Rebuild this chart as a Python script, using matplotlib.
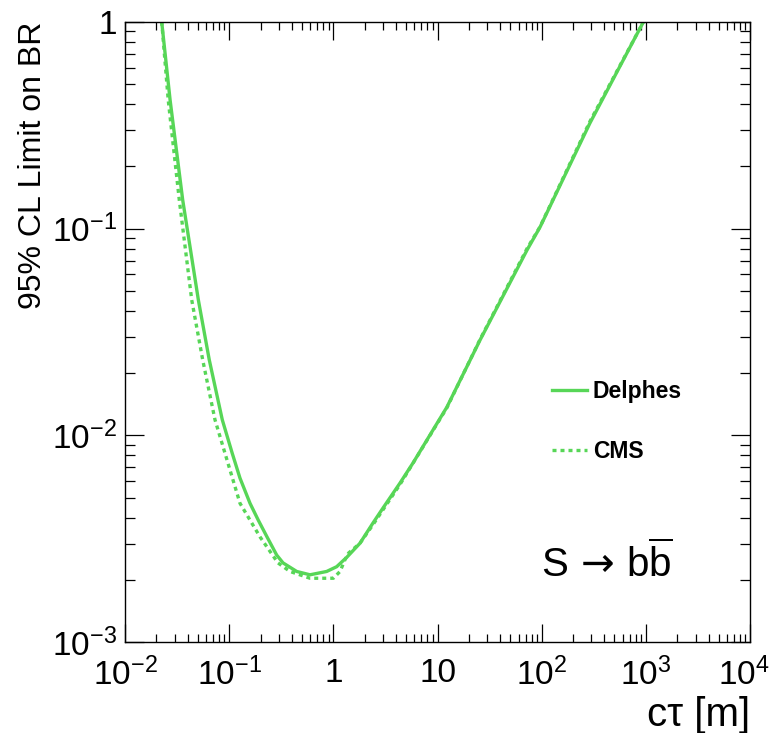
import matplotlib
matplotlib.use("Agg")
import matplotlib.pyplot as plt
import matplotlib.transforms as mtransforms
from matplotlib.ticker import FixedLocator, FixedFormatter, LogLocator, NullFormatter

# ---- data ----
delphes_ctau = [0.0225, 0.0271, 0.0358, 0.0506, 0.0644, 0.0859, 0.107, 0.127,
                0.1585, 0.190, 0.231, 0.286, 0.329, 0.445, 0.597, 0.863, 1.077, 1.35,
                1.80, 2.40, 3.00, 4.37, 5.82, 12.3, 25.6, 72.3, 96.4, 291, 950]
delphes_br = [1.0, 0.418, 0.1375, 0.0452, 0.0232, 0.0119, 0.0082, 0.00622,
              0.0047, 0.0039, 0.00323, 0.00264, 0.00242, 0.0022, 0.00212, 0.0022,
              0.00232, 0.00258, 0.00301, 0.00377, 0.00446, 0.00589, 0.00736, 0.0137,
              0.0289, 0.0787, 0.1016, 0.324, 1.0]

cms_ctau = [0.0225, 0.026, 0.0332, 0.0437, 0.0557, 0.0731, 0.0912, 0.127,
            0.198, 0.294, 0.384, 0.597, 1.0, 1.16, 1.29, 1.40, 1.80, 2.40, 4.37,
            12.3, 25.6, 72.3, 96.4, 291, 950]
cms_br = [1.0, 0.418, 0.1375, 0.0452, 0.0232, 0.0119, 0.0082, 0.0047,
          0.00323, 0.00242, 0.0022, 0.00204, 0.00204, 0.0022, 0.0025, 0.0027,
          0.00301, 0.0037, 0.0058, 0.0136, 0.0291, 0.080, 0.102, 0.33, 1.0]

x_ticks = [1e-2, 1e-1, 1, 10, 1e2, 1e3, 1e4]
x_labels = [r"$10^{-2}$", r"$10^{-1}$", "1", "10", r"$10^{2}$", r"$10^{3}$", r"$10^{4}$"]
y_ticks = [1e-3, 1e-2, 1e-1, 1]
y_labels = [r"$10^{-3}$", r"$10^{-2}$", r"$10^{-1}$", "1"]

green = "#57d657"

plt.rcParams["font.family"] = ["Liberation Sans", "DejaVu Sans"]
plt.rcParams["mathtext.fontset"] = "custom"
plt.rcParams["mathtext.rm"] = "Liberation Sans"
plt.rcParams["mathtext.it"] = "Liberation Sans:italic"
plt.rcParams["mathtext.bf"] = "Liberation Sans:bold"
plt.rcParams["mathtext.sf"] = "DejaVu Sans"

fig = plt.figure(figsize=(7.74, 7.33), dpi=100, facecolor="w")
ax = fig.add_axes([125 / 774., 1 - 642.3 / 733., 625 / 774., 620.6 / 733.])

ax.plot(delphes_ctau, delphes_br, color=green, lw=2.4, label="Delphes",
        solid_joinstyle="round")
ax.plot(cms_ctau, cms_br, color=green, lw=2.4, dashes=(1.2, 1.2), label="CMS")

ax.set_xscale("log")
ax.set_yscale("log")
ax.set_xlim(1e-2, 1e4)
ax.set_ylim(1e-3, 1)

ax.xaxis.set_major_locator(FixedLocator(x_ticks))
ax.xaxis.set_major_formatter(FixedFormatter(x_labels))
ax.yaxis.set_major_locator(FixedLocator(y_ticks))
ax.yaxis.set_major_formatter(FixedFormatter(y_labels))
ax.xaxis.set_minor_locator(LogLocator(base=10, subs=range(2, 10), numticks=20))
ax.yaxis.set_minor_locator(LogLocator(base=10, subs=range(2, 10), numticks=20))
ax.xaxis.set_minor_formatter(NullFormatter())
ax.yaxis.set_minor_formatter(NullFormatter())

ax.tick_params(which="both", direction="in", top=True, right=True, labelsize=24)
ax.tick_params(axis="x", which="major", length=13, width=0.9, pad=11)
ax.tick_params(axis="x", which="minor", length=6, width=0.9)
ax.tick_params(axis="y", which="major", length=14, width=0.9, pad=6)
ax.tick_params(axis="y", which="minor", length=7.5, width=0.9)
for loc, spine in ax.spines.items():
    spine.set_linewidth(1.0)

# pull the last x label (10^4) a little inside the canvas
last = ax.xaxis.get_majorticklabels()[-1]
last.set_transform(last.get_transform() +
                   mtransforms.ScaledTranslation(-6 / 100., 0, fig.dpi_scale_trans))

ax.set_ylabel("95% CL Limit on BR", fontsize=23, loc="top")
ax.yaxis.set_label_coords(-0.123, 1.0)
ax.set_xlabel("c\u03c4 [m]", fontsize=29, loc="right")
ax.xaxis.set_label_coords(1.0, -0.086)

leg = ax.legend(loc="upper left", bbox_to_anchor=(0.65, 0.4565), frameon=False,
                prop={"weight": "bold", "size": 16.5}, handlelength=1.53,
                handletextpad=0.25, labelspacing=1.65)

ax.text(0.665, 0.105, r"$\mathrm{S}\,\mathsf{\rightarrow}\,\mathrm{b\overline{b}}$",
        transform=ax.transAxes, fontsize=29)

fig.savefig("out.png", dpi=100)
